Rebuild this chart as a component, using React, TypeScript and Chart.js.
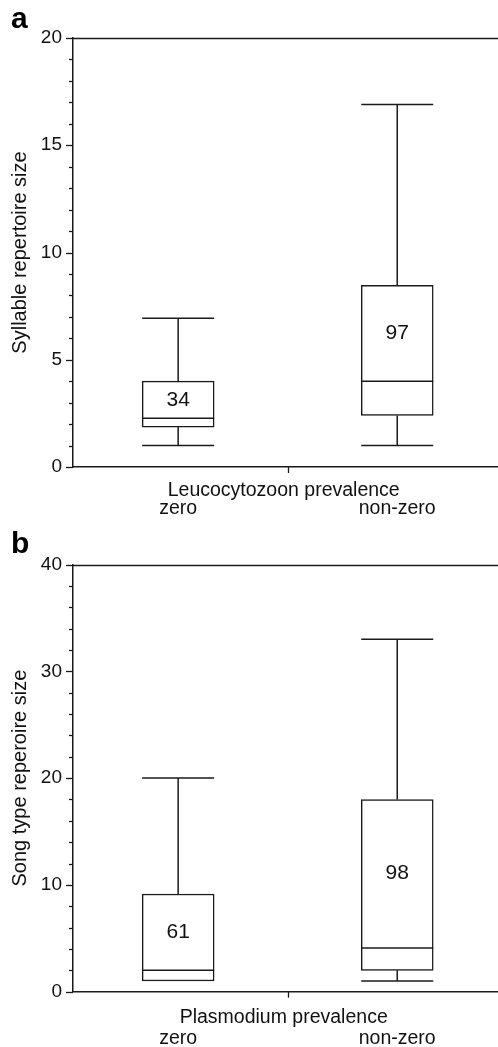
import React, { useEffect, useRef } from 'react';
import { Chart, registerables } from 'chart.js';

Chart.register(...registerables);

// ---------- data ----------
const categories = ['zero', 'non-zero'];

// Panel a: Leucocytozoon prevalence, syllable repertoire size
const aWhiskerLow = [1, 1];
const aQ1 = [1.86, 2.4];
const aMedian = [2.27, 4.0];
const aQ3 = [4.0, 8.47];
const aWhiskerHigh = [6.93, 16.9];
const aCounts = ['34', '97'];
const aYTicks = { min: 0, max: 20, minorStep: 1, majorStep: 5 };

// Panel b: Plasmodium prevalence, song type repertoire size
const bWhiskerLow = [1, 1];
const bQ1 = [1, 2];
const bMedian = [2, 4.1];
const bQ3 = [9.15, 18];
const bWhiskerHigh = [20, 33];
const bCounts = ['61', '98'];
const bYTicks = { min: 0, max: 40, minorStep: 2, majorStep: 10 };

const FONT = "'Liberation Sans', Arial, Helvetica, sans-serif";
const LINE = '#1a1a1a';
const TEXT = '#111';

type Panel = {
  letter: string;
  yTitle: string;
  xTitle: string;
  low: number[];
  q1: number[];
  med: number[];
  q3: number[];
  high: number[];
  counts: string[];
  yt: { min: number; max: number; minorStep: number; majorStep: number };
  height: number;
  padTop: number;
  xHeight: number;
  labelPad: number;
  xTitleOffset: number;
};

const panels: Panel[] = [
  {
    letter: 'a',
    yTitle: 'Syllable repertoire size',
    xTitle: 'Leucocytozoon prevalence',
    low: aWhiskerLow, q1: aQ1, med: aMedian, q3: aQ3, high: aWhiskerHigh, counts: aCounts,
    yt: aYTicks,
    height: 525, padTop: 38, xHeight: 58, labelPad: 30, xTitleOffset: 28.5,
  },
  {
    letter: 'b',
    yTitle: 'Song type reperoire size',
    xTitle: 'Plasmodium prevalence',
    low: bWhiskerLow, q1: bQ1, med: bMedian, q3: bQ3, high: bWhiskerHigh, counts: bCounts,
    yt: bYTicks,
    height: 522, padTop: 39.5, xHeight: 55.3, labelPad: 35, xTitleOffset: 31,
  },
];

function makePlugin(p: Panel) {
  return {
    id: 'boxplot' + p.letter,
    afterDatasetsDraw(chart: any) {
      const { ctx } = chart;
      const x = chart.scales.x;
      const y = chart.scales.y;
      const meta = chart.getDatasetMeta(0);
      ctx.save();
      ctx.strokeStyle = LINE;
      ctx.lineWidth = 1.5;
      const line = (x1: number, y1: number, x2: number, y2: number) => {
        ctx.beginPath();
        ctx.moveTo(x1, y1);
        ctx.lineTo(x2, y2);
        ctx.stroke();
      };
      categories.forEach((_, i) => {
        const el = meta.data[i];
        const cx = x.getPixelForValue(i);
        const hw = el.width / 2;
        const yLow = y.getPixelForValue(p.low[i]);
        const yQ1 = y.getPixelForValue(p.q1[i]);
        const yMed = y.getPixelForValue(p.med[i]);
        const yQ3 = y.getPixelForValue(p.q3[i]);
        const yHigh = y.getPixelForValue(p.high[i]);
        line(cx, yQ3, cx, yHigh);
        line(cx - hw, yHigh, cx + hw, yHigh);
        if (p.low[i] < p.q1[i]) {
          line(cx, yQ1, cx, yLow);
          line(cx - hw, yLow, cx + hw, yLow);
        }
        line(cx - hw, yMed, cx + hw, yMed);
        ctx.fillStyle = TEXT;
        ctx.font = `21px ${FONT}`;
        ctx.textAlign = 'center';
        ctx.textBaseline = 'middle';
        ctx.fillText(p.counts[i], cx, y.getPixelForValue((p.med[i] + p.q3[i]) / 2));
      });
      ctx.restore();
    },
    afterDraw(chart: any) {
      const { ctx, chartArea } = chart;
      const x = chart.scales.x;
      const y = chart.scales.y;
      ctx.save();
      ctx.strokeStyle = LINE;
      ctx.lineWidth = 1.3;
      // y ticks (major long, minor short)
      y.ticks.forEach((t: any) => {
        const py = Math.round(y.getPixelForValue(t.value)) + 0.5;
        const len = t.value % p.yt.majorStep === 0 ? 7 : 4;
        ctx.beginPath();
        ctx.moveTo(chartArea.left - len, py);
        ctx.lineTo(chartArea.left, py);
        ctx.stroke();
      });
      // top frame line
      const top = Math.round(y.getPixelForValue(p.yt.max)) + 0.5;
      ctx.lineWidth = 1.5;
      ctx.beginPath();
      ctx.moveTo(chartArea.left, top);
      ctx.lineTo(chartArea.right, top);
      ctx.stroke();
      // centre tick on x axis
      const mid = x.getPixelForValue(0.5);
      ctx.lineWidth = 1.3;
      ctx.beginPath();
      ctx.moveTo(Math.round(mid) + 0.5, chartArea.bottom);
      ctx.lineTo(Math.round(mid) + 0.5, chartArea.bottom + 6);
      ctx.stroke();
      // x title (above category labels)
      ctx.fillStyle = TEXT;
      ctx.font = `19.5px ${FONT}`;
      ctx.textAlign = 'center';
      ctx.textBaseline = 'alphabetic';
      ctx.fillText(p.xTitle, mid - 4, chartArea.bottom + p.xTitleOffset);
      // panel letter
      ctx.font = `bold 30px ${FONT}`;
      ctx.textAlign = 'left';
      ctx.fillStyle = '#000';
      ctx.fillText(p.letter, 11, 28);
      ctx.restore();
    },
  };
}

function BoxPanel({ p }: { p: Panel }) {
  const ref = useRef<HTMLCanvasElement>(null);
  useEffect(() => {
    if (!ref.current) return;
    const chart = new Chart(ref.current, {
      type: 'bar',
      data: {
        datasets: [
          {
            data: categories.map((_, i) => ({ x: i, y: [p.q1[i], p.q3[i]] })) as any,
            backgroundColor: '#ffffff',
            borderColor: LINE,
            borderWidth: 1.5,
            borderSkipped: false,
            barThickness: 72,
          },
        ],
      },
      options: {
        animation: false,
        responsive: false,
        events: [],
        layout: { padding: { top: p.padTop, left: 0, right: 0, bottom: 0 } },
        plugins: {
          legend: { display: false },
          tooltip: { enabled: false },
        },
        scales: {
          x: {
            type: 'linear',
            offset: false,
            min: -0.48,
            max: 1.46,
            afterBuildTicks: (s: any) => {
              s.ticks = categories.map((_, i) => ({ value: i }));
            },
            afterFit: (s: any) => {
              s.height = p.xHeight;
            },
            grid: { display: false, drawTicks: false },
            border: { display: true, color: LINE, width: 1.5 },
            ticks: {
              padding: p.labelPad,
              autoSkip: false,
              maxRotation: 0,
              color: TEXT,
              font: { family: FONT, size: 19.5 },
              callback: (v: any) => categories[v] ?? '',
            },
          },
          y: {
            min: p.yt.min,
            max: p.yt.max,
            afterFit: (s: any) => {
              s.width = 73;
            },
            grid: {
              display: true,
              drawOnChartArea: false,
              drawTicks: true,
              tickLength: 7,
              tickColor: 'rgba(0,0,0,0)',
            },
            border: { display: true, color: LINE, width: 1.5 },
            title: {
              display: true,
              text: p.yTitle,
              color: TEXT,
              font: { family: FONT, size: 20 },
              padding: { top: 8, bottom: 0 },
            },
            ticks: {
              stepSize: p.yt.minorStep,
              autoSkip: false,
              padding: 4,
              color: TEXT,
              font: { family: FONT, size: 19 },
              callback: (v: any) => (v % p.yt.majorStep === 0 ? String(v) : ''),
            },
          },
        },
      } as any,
      plugins: [makePlugin(p)],
    });
    return () => chart.destroy();
  }, [p]);
  return (
    <div style={{ width: 498, height: p.height, position: 'relative' }}>
      <canvas ref={ref} width={498} height={p.height} style={{ display: 'block' }} />
    </div>
  );
}

export default function App() {
  return (
    <div style={{ position: 'absolute', left: 0, top: 0, width: 498, height: 1047, background: '#fff' }}>
      {panels.map((p) => (
        <BoxPanel key={p.letter} p={p} />
      ))}
    </div>
  );
}
